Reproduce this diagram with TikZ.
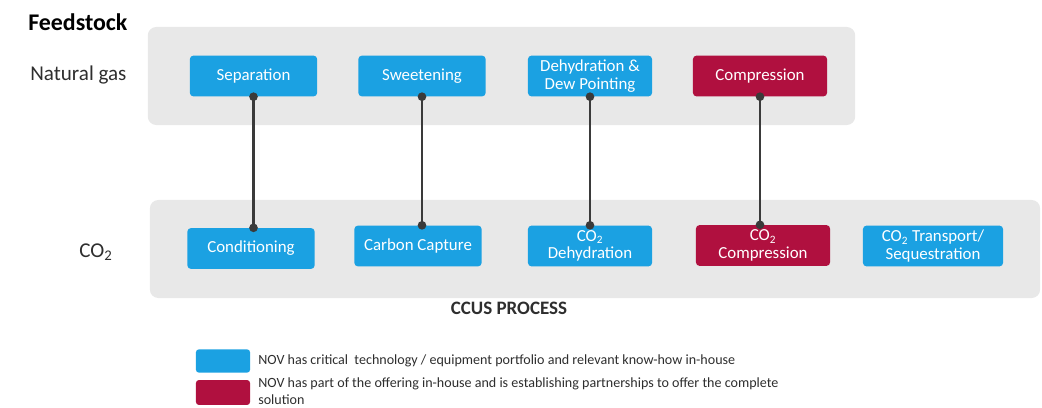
\documentclass[tikz,border=0pt]{standalone}
\usepackage{fontspec}
\setmainfont{Carlito}
\usetikzlibrary{arrows.meta}
\definecolor{novBlue}{HTML}{1BA1E2}
\definecolor{novRed}{HTML}{B0103F}
\definecolor{bandFill}{HTML}{E8E8E8}
\definecolor{linkDraw}{HTML}{3A3A3A}
\definecolor{labelText}{HTML}{2E2E2E}
\tikzset{
  stage/.style   ={rounded corners=2.5pt, fill=novBlue, text=white, align=center, inner sep=2pt,
                   minimum width=3.18cm, minimum height=1.02cm, font=\fontsize{12}{12.5}\selectfont},
  stagered/.style={stage, fill=novRed},
  band/.style    ={rounded corners=6pt, fill=bandFill, inner sep=0pt},
  link/.style    ={{Circle[length=6pt]}-{Circle[length=6pt]}, line width=2pt, draw=linkDraw,
                   shorten <=-3pt, shorten >=-3pt},
  rowlbl/.style  ={text=labelText, font=\fontsize{15}{17}\selectfont, inner sep=0pt},
  swatch/.style  ={rounded corners=2pt, minimum width=1.35cm, minimum height=0.58cm, inner sep=0pt},
  legtext/.style ={text=labelText, align=left, inner sep=0pt, font=\fontsize{10}{12.7}\selectfont},
}
\begin{document}
\begin{tikzpicture}[x=0.025cm, y=-0.025cm]
  \useasboundingbox (0,0) rectangle (1042,408);

  % grey bands
  \node[band, minimum width=17.68cm, minimum height=2.45cm] (gasband) at (501.5,76) {};
  \node[band, minimum width=22.25cm, minimum height=2.45cm] (co2band) at (595,249) {};

  % row labels
  \node[rowlbl, anchor=west, font=\fontsize{17}{19}\selectfont\bfseries, text=black] (feed) at (28,22) {Feedstock};
  \node[rowlbl, anchor=west] (gas) at (30,75) {Natural gas};
  \node[rowlbl] (co2) at (96,252) {CO\textsubscript{2}};

  % natural gas stages
  \node[stage] (sep) at (253.5,76) {Separation};
  \node[stage] (swe) at (422,76) {Sweetening};
  \node[stage, minimum width=3.1cm] (dew) at (590,76) {Dehydration \&\\Dew Pointing};
  \node[stagered, minimum width=3.35cm] (comp) at (760,76) {Compression};

  % CO2 stages
  \node[stage] (cond) at (251,248.5) {Conditioning};
  \node[stage] (cap) at (418,246) {Carbon Capture};
  \node[stage, minimum width=3.1cm] (dehy) at (590,246) {CO\textsubscript{2}\\Dehydration};
  \node[stagered, minimum width=3.35cm] (co2comp) at (763,245.5) {CO\textsubscript{2}\\Compression};
  \node[stage, minimum width=3.5cm] (trans) at (933,246) {CO\textsubscript{2} Transport/\\Sequestration};

  % links between rows
  \draw[link] (sep.south) -- (sep.south |- cond.north);
  \draw[link] (swe.south) -- (swe.south |- cap.north);
  \draw[link] (dew.south) -- (dew.south |- dehy.north);
  \draw[link] (comp.south) -- (comp.south |- co2comp.north);

  \node[font=\fontsize{13.5}{15}\selectfont\bfseries, text=labelText] (ccus) at (509,308) {CCUS PROCESS};

  % legend
  \node[swatch, fill=novBlue] (keyblue) at (223,361) {};
  \node[swatch, fill=novRed, minimum height=0.62cm] (keyred) at (223,392.5) {};
  \node[legtext, anchor=west] (txtblue) at (258,361) {NOV has critical\ \ technology / equipment portfolio and relevant know-how in-house};
  \node[legtext, anchor=north west] (txtred) at (258,377) {NOV has part of the offering in-house and is establishing partnerships to offer the complete\\solution};
\end{tikzpicture}
\end{document}
